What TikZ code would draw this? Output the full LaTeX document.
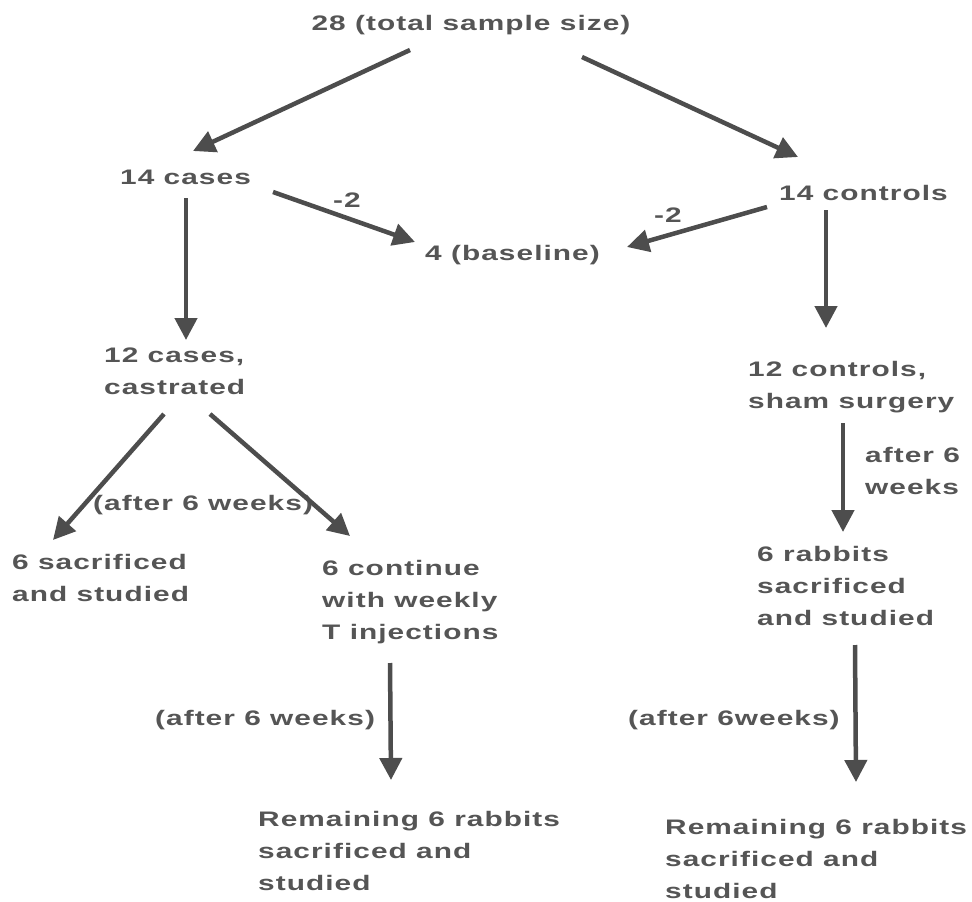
\documentclass[tikz,border=0pt]{standalone}
\usepackage{fontspec}
\setmainfont{Liberation Sans}[FakeStretch=1.42,LetterSpace=5]
\usetikzlibrary{arrows.meta}
\definecolor{txt}{HTML}{555555}
\definecolor{arr}{HTML}{4D4D4D}
\tikzset{
  lbl/.style={anchor=west,inner sep=0pt,text=txt,font=\fontsize{21}{32}\selectfont\bfseries,align=left},
  clbl/.style={lbl,anchor=center},
  arrow/.style={draw=arr,line width=4.5pt,-{Triangle[length=22pt,width=22pt]}}
}
\begin{document}
\begin{tikzpicture}[x=1pt,y=-1pt]
\useasboundingbox[fill=white] (0,0) rectangle (972,902);
\node[clbl] (top) at (471,25) {28 (total sample size)};
\node[lbl] (cases) at (120,177) {14 cases};
\node[lbl] (controls) at (779,193) {14 controls};
\node[lbl] (base) at (425,255) {4 (baseline)};
\node[clbl] (m2a) at (347,200) {-2};
\node[clbl] (m2b) at (668,215) {-2};
\node[lbl] (cast) at (104,371) {12 cases,\\castrated};
\node[lbl] (sham) at (748,387) {12 controls,\\sham surgery};
\node[lbl] (aft6r) at (865,471) {after 6\\weeks};
\node[lbl] (aftmid) at (93,505) {(after 6 weeks)};
\node[lbl] (sac6) at (12,578) {6 sacrificed\\and studied};
\node[lbl] (cont6) at (322,602) {6 continue\\with weekly\\T injections};
\node[lbl] (rab6) at (757,586) {6 rabbits\\sacrificed\\and studied};
\node[lbl] (aftlow) at (155,720) {(after 6 weeks)};
\node[lbl] (rem1) at (258,851) {Remaining 6 rabbits\\sacrificed and\\studied};
\node[lbl] (aftright) at (628,720) {(after 6weeks)};
\node[lbl] (rem2) at (665,859) {Remaining 6 rabbits\\sacrificed and\\studied};
\draw[arrow] ([shift={(-61,25)}]top.center) -- ([shift={(73,-26)}]cases.west);
\draw[arrow] ([shift={(111,32)}]top.center) -- ([shift={(19,-36)}]controls.west);
\draw[arrow] ([shift={(153,15)}]cases.west) -- ([shift={(-10,-13)}]base.west);
\draw[arrow] ([shift={(-12,14)}]controls.west) -- ([shift={(202,-8)}]base.west);
\draw[arrow] ([shift={(66,21)}]cases.west) -- ([shift={(82,-31)}]cast.west);
\draw[arrow] ([shift={(47,17)}]controls.west) -- ([shift={(78,-59)}]sham.west);
\draw[arrow] ([shift={(60,43)}]cast.west) -- ([shift={(41,-38)}]sac6.west);
\draw[arrow] ([shift={(106,43)}]cast.west) -- ([shift={(28,-66)}]cont6.west);
\draw[arrow] ([shift={(95,36)}]sham.west) -- ([shift={(86,-54)}]rab6.west);
\draw[arrow] ([shift={(68,61)}]cont6.west) -- ([shift={(133,-71)}]rem1.west);
\draw[arrow] ([shift={(98,59)}]rab6.west) -- ([shift={(191,-77)}]rem2.west);
\end{tikzpicture}
\end{document}
